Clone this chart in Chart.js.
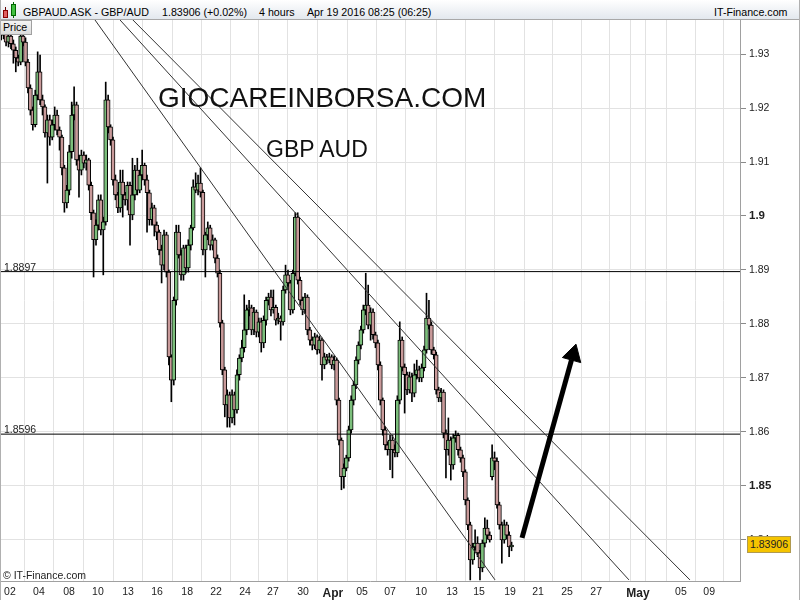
<!DOCTYPE html>
<html><head><meta charset="utf-8">
<script src="https://cdn.jsdelivr.net/npm/chart.js@4.4.1/dist/chart.umd.min.js"></script>
<style>
html,body{margin:0;padding:0;background:#fff;}
#wrap{position:relative;width:800px;height:600px;overflow:hidden;font-family:"Liberation Sans",Arial,sans-serif;}
canvas{position:absolute;left:0;top:0;}
.t{position:absolute;white-space:nowrap;line-height:1;color:#000;}
#hdr{position:absolute;left:0;top:0;width:800px;height:19px;background:linear-gradient(#ffffff,#e3e8ee);border-bottom:1px solid #a8a8a8;}
#frame{position:absolute;left:0;top:0;width:800px;height:600px;box-sizing:border-box;border-left:1px solid #b0b0b0;border-right:1px solid #b0b0b0;pointer-events:none;}
</style></head><body>
<div id="wrap">
<canvas id="c" width="800" height="600"></canvas>
<div id="hdr">
  <div style="position:absolute;left:5px;top:7px;width:1px;height:11px;background:#600"></div>
  <div style="position:absolute;left:3px;top:10px;width:3px;height:6px;background:#e06060;border:1px solid #800"></div>
  <div style="position:absolute;left:13px;top:2px;width:1px;height:16px;background:#060"></div>
  <div style="position:absolute;left:11px;top:4px;width:3px;height:10px;background:#40c040;border:1px solid #060"></div>
  <div class="t" style="left:23px;top:7px;font-size:10.67px;">GBPAUD.ASK - GBP/AUD</div>
  <div class="t" style="left:162px;top:7px;font-size:10.67px;">1.83906 (+0.02%)</div>
  <div class="t" style="left:259px;top:7px;font-size:10.67px;">4 hours</div>
  <div class="t" style="left:307px;top:7px;font-size:10.67px;">Apr 19 2016 08:25 (06:25)</div>
  <div class="t" style="left:714px;top:7px;font-size:10.67px;">IT-Finance.com</div>
</div>
<div class="t" style="left:0px;top:20px;width:28px;height:13px;background:linear-gradient(#f4f4f4,#dcdcdc);border:1px solid #a0a0a0;font-size:10.67px;padding-left:2px;line-height:13px;">Price</div>
<div class="t" style="left:158px;top:84px;font-size:28px;color:#111;">GIOCAREINBORSA.COM</div>
<div class="t" style="left:266px;top:138px;font-size:23px;color:#111;">GBP AUD</div>
<div class="t" style="left:4px;top:262px;font-size:10.5px;color:#222;">1.8897</div>
<div class="t" style="left:4px;top:424px;font-size:10.5px;color:#222;">1.8596</div>
<div class="t" style="left:3px;top:570px;font-size:10.5px;color:#222;">© IT-Finance.com</div>
<div class="t" style="left:747px;top:536px;width:42px;height:15px;background:#f5c400;border:1px solid #b09a50;font-size:10.5px;line-height:15px;text-align:center;color:#222;">1.83906</div>
<div id="frame"></div>
</div>
<script>
// ---- data ----
const tickPositions = [3.6,15.5,27.9,39.8,52.2,64.1,76.5,88.4,100.3,111.8,124.2,136.5,148.5,160.0,172.8,185.5,196.6,209.4,220.9,232.8,244.8,255.9,262.0,268.2,279.7,291.3];
const tickLabels = ['02','04','08','10','13','16','18','22','24','27','30','Apr','05','07','10','13','15','19','21','25','27','','May','','05','09'];
const boldTickLabels = ['Apr','May'];
const yTicks = [1.84,1.85,1.86,1.87,1.88,1.89,1.90,1.91,1.92,1.93];
const yTickLabels = ['1.84','1.85','1.86','1.87','1.88','1.89','1.9','1.91','1.92','1.93'];
const boldYLabels = ['1.9','1.85'];

const opens = [
1.9348,1.9335,1.9344,1.9322,1.9333,1.9319,1.9307,1.9293,1.9285,1.9333,
1.9322,1.9285,1.9237,1.9196,1.9169,1.9224,1.9267,1.9215,1.9202,1.9154,
1.9178,1.9146,1.9169,1.9187,1.9159,1.9146,1.9089,1.9024,1.9048,1.9119,
1.9187,1.9206,1.9104,1.9085,1.9113,1.9098,1.9104,1.9057,1.9006,1.8956,
1.8983,1.9030,1.8974,1.8989,1.9215,1.9165,1.9141,1.9067,1.9039,1.9015,
1.9063,1.9039,1.9030,1.9057,1.9002,1.9039,1.9085,1.9048,1.9076,1.9094,
1.9067,1.9043,1.8993,1.9015,1.8983,1.8970,1.8937,1.8909,1.8965,1.8896,
1.8739,1.8696,1.8844,1.8970,1.8928,1.8891,1.8941,1.8904,1.8946,1.8978,
1.9054,1.9048,1.9061,1.9044,1.8937,1.8965,1.8978,1.8946,1.8956,1.8922,
1.8894,1.8802,1.8715,1.8650,1.8669,1.8626,1.8669,1.8641,1.8706,1.8737,
1.8756,1.8789,1.8826,1.8830,1.8789,1.8822,1.8785,1.8804,1.8765,1.8807,
1.8844,1.8850,1.8826,1.8831,1.8807,1.8811,1.8804,1.8863,1.8891,1.8876,
1.8826,1.8894,1.8998,1.8881,1.8844,1.8826,1.8850,1.8789,1.8770,1.8761,
1.8776,1.8752,1.8770,1.8724,1.8739,1.8733,1.8739,1.8724,1.8733,1.8659,
1.8585,1.8517,1.8533,1.8552,1.8604,1.8659,1.8687,1.8733,1.8761,1.8789,
1.8826,1.8835,1.8798,1.8822,1.8780,1.8765,1.8724,1.8659,1.8604,1.8576,
1.8567,1.8585,1.8567,1.8561,1.8659,1.8770,1.8720,1.8706,1.8678,1.8702,
1.8672,1.8706,1.8715,1.8700,1.8719,1.8752,1.8811,1.8798,1.8752,1.8743,
1.8678,1.8663,1.8674,1.8598,1.8567,1.8585,1.8539,1.8589,1.8594,1.8567,
1.8552,1.8526,1.8474,1.8428,1.8363,1.8387,1.8394,1.8376,1.8348,1.8394,
1.8422,1.8409,1.8517,1.8552,1.8546,1.8465,1.8428,1.8400,1.8428,1.8409,
1.8387];
const highs = [
1.9363,1.9360,1.9352,1.9340,1.9338,1.9326,1.9313,1.9298,1.9340,1.9337,
1.9330,1.9290,1.9243,1.9202,1.9233,1.9304,1.9298,1.9224,1.9206,1.9187,
1.9187,1.9178,1.9202,1.9196,1.9165,1.9150,1.9094,1.9057,1.9131,1.9211,
1.9239,1.9211,1.9113,1.9122,1.9119,1.9113,1.9107,1.9063,1.9011,1.8993,
1.9039,1.9039,1.8998,1.9248,1.9224,1.9169,1.9146,1.9076,1.9044,1.9085,
1.9085,1.9044,1.9063,1.9063,1.9107,1.9094,1.9107,1.9085,1.9122,1.9098,
1.9076,1.9048,1.9024,1.9020,1.8989,1.8974,1.8946,1.8974,1.8970,1.8900,
1.8743,1.8850,1.8983,1.8983,1.8937,1.8946,1.8946,1.8956,1.8983,1.9067,
1.9080,1.9076,1.9089,1.9048,1.8970,1.8989,1.8983,1.8965,1.8959,1.8928,
1.8900,1.8807,1.8720,1.8678,1.8674,1.8678,1.8674,1.8715,1.8743,1.8770,
1.8854,1.8835,1.8844,1.8835,1.8831,1.8826,1.8811,1.8811,1.8815,1.8850,
1.8857,1.8863,1.8863,1.8835,1.8820,1.8815,1.8870,1.8909,1.8900,1.8881,
1.8900,1.9006,1.9006,1.8887,1.8850,1.8857,1.8854,1.8794,1.8776,1.8783,
1.8780,1.8778,1.8774,1.8746,1.8744,1.8746,1.8743,1.8741,1.8737,1.8663,
1.8589,1.8541,1.8557,1.8611,1.8667,1.8694,1.8739,1.8767,1.8796,1.8835,
1.8894,1.8872,1.8830,1.8828,1.8785,1.8770,1.8730,1.8663,1.8609,1.8582,
1.8594,1.8594,1.8576,1.8667,1.8804,1.8776,1.8726,1.8711,1.8711,1.8709,
1.8726,1.8733,1.8722,1.8726,1.8759,1.8857,1.8844,1.8804,1.8757,1.8748,
1.8683,1.8681,1.8678,1.8604,1.8626,1.8591,1.8596,1.8602,1.8598,1.8572,
1.8557,1.8530,1.8478,1.8433,1.8394,1.8419,1.8406,1.8381,1.8400,1.8441,
1.8437,1.8415,1.8576,1.8563,1.8552,1.8470,1.8433,1.8437,1.8433,1.8415,
1.8396];
const lows = [
1.9326,1.9328,1.9315,1.9313,1.9310,1.9283,1.9267,1.9278,1.9280,1.9315,
1.9278,1.9228,1.9187,1.9159,1.9165,1.9215,1.9206,1.9187,1.9146,1.9061,
1.9131,1.9141,1.9159,1.9150,1.9122,1.9076,1.9007,1.9015,1.9039,1.9107,
1.9178,1.9094,1.9035,1.9076,1.9089,1.9085,1.9048,1.8993,1.8887,1.8946,
1.8974,1.8965,1.8891,1.8983,1.9154,1.9131,1.9057,1.9030,1.9006,1.9007,
1.8998,1.9020,1.9011,1.8946,1.8993,1.9030,1.9039,1.9043,1.9067,1.9057,
1.8970,1.8983,1.8983,1.8963,1.8956,1.8928,1.8876,1.8900,1.8887,1.8724,
1.8656,1.8687,1.8835,1.8922,1.8881,1.8881,1.8894,1.8896,1.8937,1.8974,
1.9043,1.9039,1.9035,1.8928,1.8887,1.8956,1.8937,1.8937,1.8913,1.8887,
1.8794,1.8706,1.8628,1.8609,1.8609,1.8617,1.8613,1.8635,1.8696,1.8730,
1.8748,1.8780,1.8815,1.8780,1.8780,1.8776,1.8776,1.8748,1.8756,1.8798,
1.8835,1.8815,1.8820,1.8798,1.8800,1.8770,1.8798,1.8857,1.8870,1.8817,
1.8820,1.8889,1.8874,1.8835,1.8817,1.8820,1.8780,1.8761,1.8752,1.8754,
1.8744,1.8746,1.8696,1.8717,1.8726,1.8728,1.8717,1.8715,1.8650,1.8576,
1.8493,1.8496,1.8528,1.8546,1.8598,1.8650,1.8680,1.8726,1.8754,1.8783,
1.8817,1.8791,1.8770,1.8772,1.8756,1.8715,1.8650,1.8594,1.8567,1.8557,
1.8530,1.8515,1.8554,1.8554,1.8652,1.8713,1.8635,1.8669,1.8672,1.8656,
1.8665,1.8698,1.8693,1.8693,1.8713,1.8746,1.8791,1.8744,1.8735,1.8670,
1.8656,1.8656,1.8589,1.8515,1.8557,1.8511,1.8531,1.8581,1.8557,1.8544,
1.8517,1.8465,1.8419,1.8326,1.8355,1.8381,1.8369,1.8326,1.8341,1.8387,
1.8402,1.8396,1.8511,1.8530,1.8459,1.8420,1.8357,1.8394,1.8402,1.8369,
1.8380];
const closes = [
1.9335,1.9344,1.9322,1.9333,1.9319,1.9307,1.9293,1.9285,1.9333,1.9322,
1.9285,1.9237,1.9196,1.9169,1.9224,1.9267,1.9215,1.9202,1.9154,1.9178,
1.9146,1.9169,1.9187,1.9159,1.9146,1.9089,1.9024,1.9048,1.9119,1.9187,
1.9206,1.9104,1.9085,1.9113,1.9098,1.9104,1.9057,1.9006,1.8956,1.8983,
1.9030,1.8974,1.8989,1.9215,1.9165,1.9141,1.9067,1.9039,1.9015,1.9063,
1.9039,1.9030,1.9057,1.9002,1.9039,1.9085,1.9048,1.9076,1.9094,1.9067,
1.9043,1.8993,1.9015,1.8983,1.8970,1.8937,1.8909,1.8965,1.8896,1.8739,
1.8696,1.8844,1.8970,1.8928,1.8891,1.8941,1.8904,1.8946,1.8978,1.9054,
1.9048,1.9061,1.9044,1.8937,1.8965,1.8978,1.8946,1.8956,1.8922,1.8894,
1.8802,1.8715,1.8650,1.8669,1.8626,1.8669,1.8641,1.8706,1.8737,1.8756,
1.8789,1.8826,1.8830,1.8789,1.8822,1.8785,1.8804,1.8765,1.8807,1.8844,
1.8850,1.8826,1.8831,1.8807,1.8811,1.8804,1.8863,1.8891,1.8876,1.8826,
1.8894,1.8998,1.8881,1.8844,1.8826,1.8850,1.8789,1.8770,1.8761,1.8776,
1.8752,1.8770,1.8724,1.8739,1.8733,1.8739,1.8724,1.8733,1.8659,1.8585,
1.8517,1.8533,1.8552,1.8604,1.8659,1.8687,1.8733,1.8761,1.8789,1.8826,
1.8835,1.8798,1.8822,1.8780,1.8765,1.8724,1.8659,1.8604,1.8576,1.8567,
1.8585,1.8567,1.8561,1.8659,1.8770,1.8720,1.8706,1.8678,1.8702,1.8672,
1.8706,1.8715,1.8700,1.8719,1.8752,1.8811,1.8798,1.8752,1.8743,1.8678,
1.8663,1.8674,1.8598,1.8567,1.8585,1.8539,1.8589,1.8594,1.8567,1.8552,
1.8526,1.8474,1.8428,1.8363,1.8387,1.8394,1.8376,1.8348,1.8394,1.8422,
1.8409,1.8400,1.8552,1.8546,1.8465,1.8428,1.8400,1.8428,1.8409,1.8387,
1.83906];

// horizontal levels and drawn lines (candle index, price)
const levels = [1.8897, 1.8596];
const trendA = [[38.6, 1.9363], [203.2, 1.8326]];
const trendB = [[48.9, 1.9363], [258.3, 1.8326]];
const trendC = [[54.2, 1.9363], [283.4, 1.8326]];
const arrowShaft = [[214.3, 1.8404], [234.7, 1.8734]];
const arrowHead = [[235.3, 1.8743]];

// ---- chart ----
const UP = '#7cbf7c', DOWN = '#c99a9a';
const FAM = '"Liberation Sans", Arial, sans-serif';
Chart.defaults.font.family = FAM;
const toXY = arr => arr.map(p => ({x: p[0], y: p[1]}));
const bodies = opens.map((o, i) => ({x: i, y: [o, closes[i]]}));
const wicks = highs.map((h, i) => ({x: i, y: [lows[i], h]}));
const bodyColors = opens.map((o, i) => closes[i] >= o ? UP : DOWN);
const lineDs = (pts, w, color) => ({type: 'line', data: toXY(pts), borderColor: color, borderWidth: w, pointRadius: 0, fill: false, tension: 0, borderCapStyle: 'butt'});

new Chart(document.getElementById('c'), {
  type: 'bar',
  data: {
    datasets: [
      {type: 'line', data: toXY(arrowHead), showLine: false, pointStyle: 'triangle', pointRadius: 11, rotation: 15.6, pointBackgroundColor: '#000', pointBorderColor: '#000', pointBorderWidth: 1},
      lineDs(arrowShaft, 5, '#000'),
      lineDs(trendA, 1, '#333'),
      lineDs(trendB, 1, '#333'),
      lineDs(trendC, 1, '#333'),
      ...levels.map(v => lineDs([[-0.5, v], [304, v]], 1, '#000')),
      {data: bodies, backgroundColor: bodyColors, borderColor: '#000', borderWidth: 1, borderSkipped: false, barThickness: 4, grouped: false, minBarLength: 1},
      {data: wicks, backgroundColor: '#000', borderWidth: 0, barThickness: 1, grouped: false}
    ]
  },
  options: {
    responsive: false,
    animation: false,
    devicePixelRatio: 1,
    layout: {autoPadding: false, padding: {top: 20, left: 0, right: 0, bottom: 0}},
    plugins: {legend: {display: false}, tooltip: {enabled: false}},
    scales: {
      x: {
        type: 'linear', min: -0.5, max: 304, offset: false,
        afterBuildTicks: s => { s.ticks = tickPositions.map(v => ({value: v})); },
        afterFit: s => { s.height = 19; s.paddingLeft = 0; s.paddingRight = 0; },
        grid: {color: '#e2e2e2', drawTicks: false},
        border: {color: '#a0a0a0'},
        ticks: {
          autoSkip: false, maxRotation: 0, minRotation: 0, padding: 5, color: '#222',
          callback: (v, i) => tickLabels[i],
          font: ctx => {
            const lab = tickLabels[ctx.index];
            return boldTickLabels.includes(lab) ? {size: 12, weight: 'bold', family: FAM} : {size: 10.5, family: FAM};
          }
        }
      },
      y: {
        type: 'linear', position: 'right', min: 1.8324, max: 1.9363,
        afterBuildTicks: s => { s.ticks = yTicks.map(v => ({value: v})); },
        afterFit: s => { s.width = 60; s.paddingTop = 0; s.paddingBottom = 0; },
        grid: {color: '#e2e2e2', tickColor: '#8a8a8a', tickLength: 6},
        border: {color: '#a0a0a0'},
        ticks: {
          padding: 3, color: '#222',
          callback: (v, i) => yTickLabels[i],
          font: ctx => {
            const lab = yTickLabels[ctx.index];
            return boldYLabels.includes(lab) ? {size: 11.5, weight: 'bold', family: FAM} : {size: 10.5, family: FAM};
          }
        }
      }
    }
  }
});
</script>
</body></html>
